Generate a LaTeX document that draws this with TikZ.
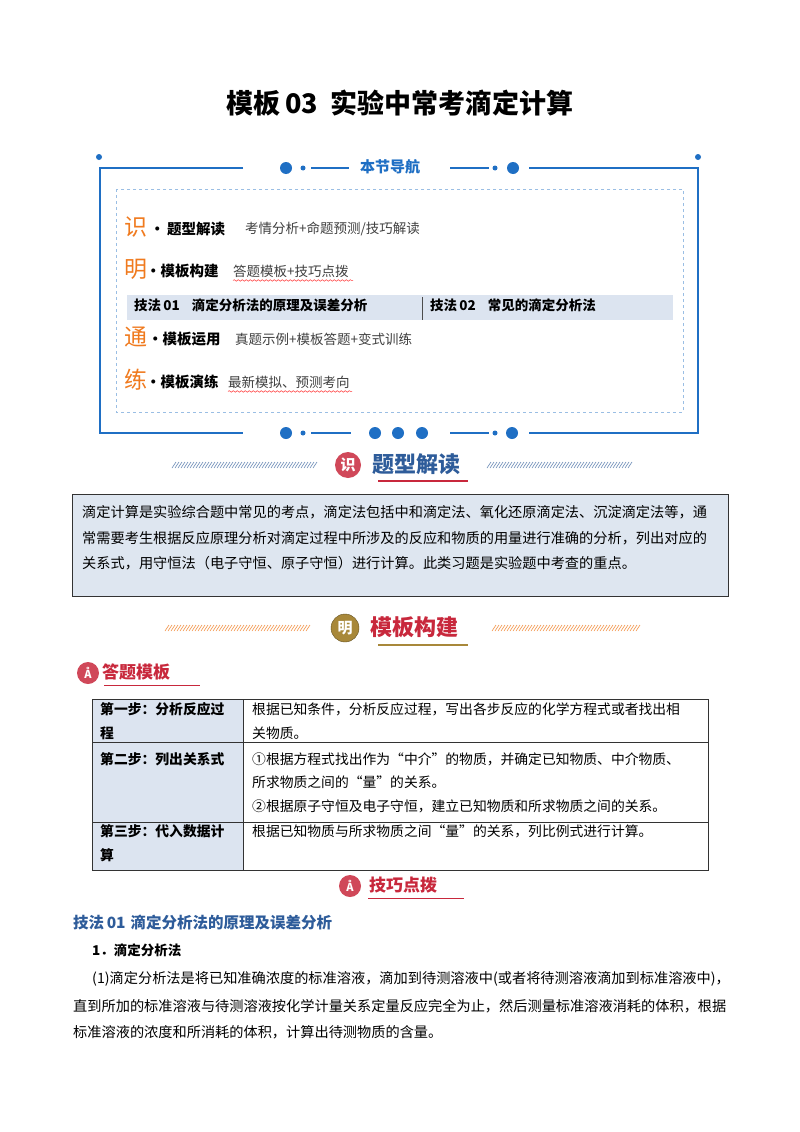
\documentclass[tikz,border=0pt]{standalone}
\usepackage{fontspec}
\setmainfont{Noto Sans CJK SC}
\usetikzlibrary{decorations.pathmorphing}
\definecolor{navblue}{HTML}{1F6FC4}
\definecolor{band}{HTML}{DCE4F0}
\definecolor{boxfill}{HTML}{DEE6F0}
\definecolor{orng}{HTML}{F07A1E}
\definecolor{dblue}{HTML}{2E5C9A}
\definecolor{bred}{HTML}{C8283C}
\definecolor{gold}{HTML}{A8883A}
\tikzset{
  body/.style={anchor=west,inner sep=0,font=\fontsize{14.2}{17}\selectfont},
  small/.style={anchor=west,inner sep=0,font=\fontsize{13.5}{16}\selectfont},
  smallb/.style={anchor=west,inner sep=0,font=\fontsize{14.5}{16}\selectfont\bfseries},
  bandb/.style={anchor=west,inner sep=0,font=\fontsize{13.5}{16}\selectfont\bfseries},
  big/.style={anchor=west,inner sep=0,text=orng,font=\fontsize{23}{24}\selectfont},
  navline/.style={navblue,line width=1.8pt},
  bdot/.style={circle,fill=navblue,inner sep=0,minimum size=12pt},
  sdot/.style={circle,fill=navblue,inner sep=0,minimum size=5pt},
  wavy/.style={red!80,line width=0.5pt,decorate,decoration={snake,amplitude=0.8pt,segment length=4pt}},
  tcell/.style={body,font=\fontsize{13.8}{17}\selectfont},
  badge/.style={circle,fill=bred!85,inner sep=0,minimum size=22pt,text=white,font=\fontsize{11}{11}\selectfont\bfseries},
}
\begin{document}
\begin{tikzpicture}[x=1pt,y=-1pt]
\useasboundingbox[fill=white] (0,0) rectangle (800,1132);
% title
\node[inner sep=0,font=\fontsize{27}{30}\selectfont\bfseries] (title) at (400,103) {模板\,03\hspace{12pt}实验中常考滴定计算};
% nav frame
\draw[navline] (243,168) -- (100,168) -- (100,433) -- (243,433);
\draw[navline] (529,168) -- (698,168) -- (698,433) -- (529,433);
\fill[navblue] (99,157) circle (3pt) (698,157) circle (3pt);
\node[bdot] (t1) at (286,168) {}; \node[sdot] (t2) at (303,168) {};
\draw[navline,line width=1.5pt] (311,168) -- (349,168);
\node[inner sep=0,text=navblue,font=\fontsize{15}{18}\selectfont\bfseries] (navt) at (390,167) {本节导航};
\draw[navline,line width=1.5pt] (450,168) -- (489,168);
\node[sdot] (t3) at (495,168) {}; \node[bdot] (t4) at (513,168) {};
\node[bdot] (b1) at (286,433) {}; \node[sdot] (b2) at (303,433) {};
\draw[navline,line width=1.5pt] (311,433) -- (351,433);
\node[bdot] (b3) at (375,433) {}; \node[bdot] (b4) at (398,433) {}; \node[bdot] (b5) at (422,433) {};
\draw[navline,line width=1.5pt] (450,433) -- (489,433);
\node[sdot] (b6) at (495,433) {}; \node[bdot] (b7) at (512,433) {};
\draw[navblue!45,dashed,line width=0.9pt] (116,189) rectangle (683,412);
% rows
\node[big] (s1) at (124,227) {识};
\node[smallb] (s1b) at (150,229) {·\,题型解读};
\node[small,text=black!75] (s1c) at (245,229) {考情分析+命题预测/技巧解读};
\node[big] (s2) at (124,269) {明};
\node[smallb] (s2b) at (146,271) {·模板构建};
\node[small,text=black!75] (s2c) at (233,271) {答题模板+技巧点拨};
\draw[wavy] (s2c.south west)++(0,3) -- ++(120,0);
\fill[band] (127,295) rectangle (673,320);
\draw[black!70,line width=0.8pt] (422,297) -- (422,320);
\node[bandb] (j1) at (134,305) {技法\,01\hspace{12pt}滴定分析法的原理及误差分析};
\node[bandb] (j2) at (430,305) {技法\,02\hspace{12pt}常见的滴定分析法};
\node[big] (s3) at (124,337) {通};
\node[smallb] (s3b) at (148,339) {·模板运用};
\node[small,text=black!75] (s3c) at (235,339) {真题示例+模板答题+变式训练};
\node[big] (s4) at (124,380) {练};
\node[smallb] (s4b) at (146,382) {·模板演练};
\node[small,text=black!75] (s4c) at (228,382) {最新模拟、预测考向};
\draw[wavy] (s4c.south west)++(0,3) -- ++(124,0);
% banner 1
\foreach \x in {172,175,...,313} \draw[dblue!70,line width=0.6pt] (\x,468) -- (\x+4,462);
\foreach \x in {487,490,...,630} \draw[dblue!70,line width=0.6pt] (\x,468) -- (\x+4,462);
\node[circle,fill=bred!85,inner sep=0,minimum size=26pt,text=white,font=\fontsize{15}{15}\selectfont\bfseries] (c1) at (348,465) {识};
\node[anchor=west,inner sep=0,text=dblue,font=\fontsize{22}{24}\selectfont\bfseries] (h1) at (372,464) {题型解读};
\draw[bred,line width=1.2pt] (378,481) -- (468,481);
% summary box
\node[draw=black!80,line width=1pt,fill=boxfill,minimum width=656pt,minimum height=102pt,anchor=north west,inner sep=0] (sum) at (72,494) {};
\node[body] (p1) at (82,512) {滴定计算是实验综合题中常见的考点，滴定法包括中和滴定法、氧化还原滴定法、沉淀滴定法等，通};
\node[body] (p2) at (82,538) {常需要考生根据反应原理分析对滴定过程中所涉及的反应和物质的用量进行准确的分析，列出对应的};
\node[body] (p3) at (82,563) {关系式，用守恒法（电子守恒、原子守恒）进行计算。此类习题是实验题中考查的重点。};
% banner 2
\foreach \x in {165,168,...,308} \draw[orng!80,line width=0.6pt] (\x,631) -- (\x+4,625);
\foreach \x in {492,495,...,638} \draw[orng!80,line width=0.6pt] (\x,631) -- (\x+4,625);
\node[circle,fill=gold,draw=gold!60!black,inner sep=0,minimum size=28pt,text=white,font=\fontsize{15}{15}\selectfont\bfseries] (c2) at (345,628) {明};
\node[anchor=west,inner sep=0,text=bred,font=\fontsize{22}{24}\selectfont\bfseries] (h2) at (370,627) {模板构建};
\draw[gold,line width=1.4pt] (378,645) -- (468,645);
% 答题模板
\node[badge] (ic1) at (88,673) {Å};
\node[anchor=west,inner sep=0,text=bred,font=\fontsize{17}{19}\selectfont\bfseries] (dt) at (102,672) {答题模板};
\draw[bred,line width=1pt] (104,685) -- (200,685);
% table
\fill[band] (92,699) rectangle (243,870);
\draw[black!80,line width=0.8pt] (92,699) rectangle (708,870);
\draw[black!80,line width=0.8pt] (243,699) -- (243,870) (92,742) -- (708,742) (92,822) -- (708,822);
\node[tcell,font=\fontsize{13.8}{17}\selectfont\bfseries] (r1a) at (100,709) {第一步：分析反应过};
\node[tcell,font=\fontsize{13.8}{17}\selectfont\bfseries] (r1b) at (100,733) {程};
\node[tcell] (r1c) at (252,709) {根据已知条件，分析反应过程，写出各步反应的化学方程式或者找出相};
\node[tcell] (r1d) at (252,733) {关物质。};
\node[tcell,font=\fontsize{13.8}{17}\selectfont\bfseries] (r2a) at (100,759) {第二步：列出关系式};
\node[tcell] (r2b) at (252,759) {①根据方程式找出作为“中介”的物质，并确定已知物质、中介物质、};
\node[tcell] (r2c) at (252,782) {所求物质之间的“量”的关系。};
\node[tcell] (r2d) at (252,806) {②根据原子守恒及电子守恒，建立已知物质和所求物质之间的关系。};
\node[tcell,font=\fontsize{13.8}{17}\selectfont\bfseries] (r3a) at (100,831) {第三步：代入数据计};
\node[tcell,font=\fontsize{13.8}{17}\selectfont\bfseries] (r3b) at (100,855) {算};
\node[tcell] (r3c) at (252,831) {根据已知物质与所求物质之间“量”的关系，列比例式进行计算。};
% 技巧点拨
\node[badge] (ic2) at (350,886) {Å};
\node[anchor=west,inner sep=0,text=bred,font=\fontsize{17}{19}\selectfont\bfseries] (jq) at (369,885) {技巧点拨};
\draw[bred,line width=1pt] (368,898) -- (464,898);
% section
\node[anchor=west,inner sep=0,text=dblue,font=\fontsize{15.5}{18}\selectfont\bfseries] (sec) at (73,922) {技法\,01\hspace{5pt}滴定分析法的原理及误差分析};
\node[anchor=west,inner sep=0,font=\fontsize{13.5}{16}\selectfont\bfseries] (sub) at (92,950) {1．滴定分析法};
\node[body] (q1) at (92,979) {(1)滴定分析法是将已知准确浓度的标准溶液，滴加到待测溶液中(或者将待测溶液滴加到标准溶液中)，};
\node[body] (q2) at (73,1006) {直到所加的标准溶液与待测溶液按化学计量关系定量反应完全为止，然后测量标准溶液消耗的体积，根据};
\node[body] (q3) at (73,1032) {标准溶液的浓度和所消耗的体积，计算出待测物质的含量。};
\end{tikzpicture}
\end{document}
